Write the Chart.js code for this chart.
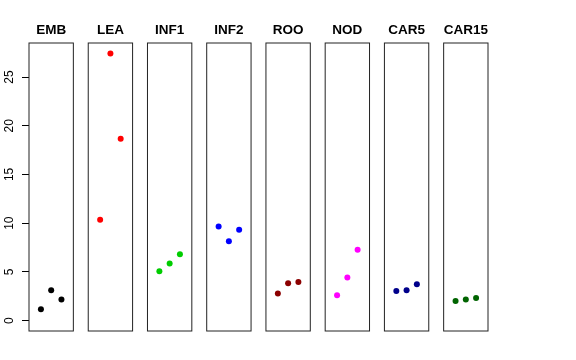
<!DOCTYPE html>
<html>
<head>
    <title>Panels</title>
    <script src="https://cdn.jsdelivr.net/npm/chart.js@4.4.0/dist/chart.umd.min.js"></script>
    <style>
        * { margin: 0; padding: 0; box-sizing: border-box; }
        body { background: #fff; width: 576px; height: 360px; overflow: hidden; }
        canvas { display: block; }
    </style>
</head>
<body>
    <canvas id="chart" width="576" height="360"></canvas>
    <script>
        // panel names and the three values in each panel
        const panels = ['EMB', 'LEA', 'INF1', 'INF2', 'ROO', 'NOD', 'CAR5', 'CAR15'];
        const emb = [1.16, 3.11, 2.16];
        const lea = [10.34, 27.4, 18.66];
        const inf1 = [5.07, 5.86, 6.81];
        const inf2 = [9.66, 8.15, 9.31];
        const roo = [2.77, 3.83, 3.97];
        const nod = [2.6, 4.42, 7.26];
        const car5 = [3.04, 3.11, 3.73];
        const car15 = [2.01, 2.16, 2.32];
        const values = [emb, lea, inf1, inf2, roo, nod, car5, car15];
        const colors = ['#000000', '#FF0000', '#00CD00', '#0000FF', '#8B0000', '#FF00FF', '#00008B', '#006400'];
        const yTicks = [0, 5, 10, 15, 20, 25];

        // each panel is its own strip on one shared x scale
        const STEP = 5.77;
        const PAD = 0.16;
        const FONT = '"Liberation Sans", Arial, Helvetica, sans-serif';

        const datasets = values.map((vals, i) => ({
            label: panels[i],
            data: vals.map((v, j) => ({ x: i * STEP + j + 1, y: v })),
            backgroundColor: colors[i],
            borderWidth: 0,
            pointRadius: 3,
            pointHoverRadius: 3
        }));

        const panelPlugin = {
            id: 'panels',
            afterDraw(chart) {
                const ctx = chart.ctx;
                const xs = chart.scales.x;
                const ys = chart.scales.y;
                const area = chart.chartArea;
                ctx.save();
                ctx.strokeStyle = '#222';
                ctx.lineWidth = 1;
                ctx.fillStyle = '#000';
                ctx.font = 'bold 13.5px ' + FONT;
                ctx.textAlign = 'center';
                ctx.textBaseline = 'alphabetic';
                panels.forEach((name, i) => {
                    const l = xs.getPixelForValue(i * STEP - PAD);
                    const r = xs.getPixelForValue(i * STEP + 4 + PAD);
                    ctx.strokeRect(l, area.top, r - l, area.bottom - area.top);
                    ctx.fillText(name, (l + r) / 2, area.top - 9);
                });
                // rotated y tick labels
                ctx.font = '12px ' + FONT;
                ctx.textBaseline = 'middle';
                yTicks.forEach(v => {
                    const y = ys.getPixelForValue(v);
                    ctx.save();
                    ctx.translate(10, y);
                    ctx.rotate(-Math.PI / 2);
                    ctx.fillText(String(v), 0, 0);
                    ctx.restore();
                });
                ctx.restore();
            }
        };

        new Chart(document.getElementById('chart').getContext('2d'), {
            type: 'scatter',
            data: { datasets: datasets },
            options: {
                responsive: false,
                animation: false,
                events: [],
                layout: { padding: { left: 0, right: 88, top: 43, bottom: 29 } },
                plugins: {
                    legend: { display: false },
                    tooltip: { enabled: false }
                },
                scales: {
                    x: {
                        type: 'linear',
                        display: false,
                        min: -PAD,
                        max: 7 * STEP + 4 + PAD
                    },
                    y: {
                        type: 'linear',
                        min: -1.07,
                        max: 28.49,
                        afterBuildTicks: scale => {
                            scale.ticks = yTicks.map(v => ({ value: v }));
                        },
                        afterFit: scale => {
                            scale.width = 29;
                        },
                        border: { display: false },
                        grid: {
                            drawOnChartArea: false,
                            drawTicks: true,
                            tickLength: 7,
                            color: '#000'
                        },
                        ticks: { display: false }
                    }
                }
            },
            plugins: [panelPlugin]
        });
    </script>
</body>
</html>
